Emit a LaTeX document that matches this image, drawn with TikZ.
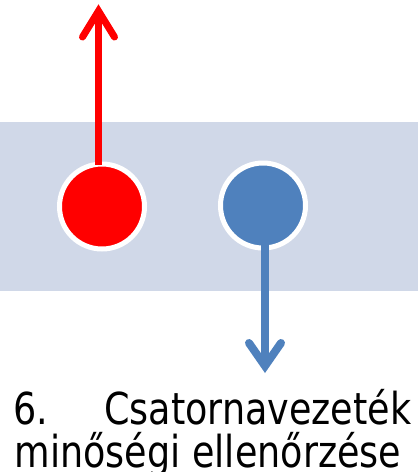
\documentclass[tikz,border=0pt]{standalone}
\usepackage{fontspec}
\setmainfont[FakeStretch=0.83]{DejaVu Sans}
\usetikzlibrary{calc}
\definecolor{bandcol}{RGB}{208,216,232}
\definecolor{bluecol}{RGB}{79,129,189}
\definecolor{redcol}{RGB}{255,0,0}
\begin{document}
\begin{tikzpicture}[x=1pt,y=-1pt,
  dot/.style={circle, minimum size=85pt, inner sep=0pt, draw=white, line width=5pt},
  shaft/.style={line width=#1, line cap=butt},
  barb/.style={line width=#1, line cap=round, line join=miter, miter limit=10},
  caption/.style={inner sep=0pt, font=\fontsize{44pt}{44pt}\selectfont}]
\useasboundingbox (0,0) rectangle (418,472);
\fill[bandcol] (0,122) rectangle (418,291);
\node[dot, fill=redcol] (red) at (102,206.5) {};
\node[dot, fill=bluecol] (blue) at (263,205.5) {};
\coordinate (redtip) at (98.5,11);
\coordinate (bluetip) at (265,366);
\draw[redcol, shaft=7pt] ([yshift=-3pt]redtip |- red.north) -- (redtip);
\draw[redcol, barb=7pt] ($(redtip)+(-16,26)$) -- (redtip) -- ($(redtip)+(16,26)$);
\draw[bluecol, shaft=8pt] (bluetip |- 0,239) -- (bluetip);
\draw[bluecol, barb=8pt] ($(bluetip)+(-16,-23)$) -- (bluetip) -- ($(bluetip)+(16,-23)$);
\node[caption, anchor=base west] (num) at (13,424) {6.};
\node[caption, anchor=base east] (title) at (411.5,424) {Csatornavezeték};
\node[caption, anchor=base west] (title2) at (14.5,467) {minőségi ellenőrzése};
\end{tikzpicture}
\end{document}
